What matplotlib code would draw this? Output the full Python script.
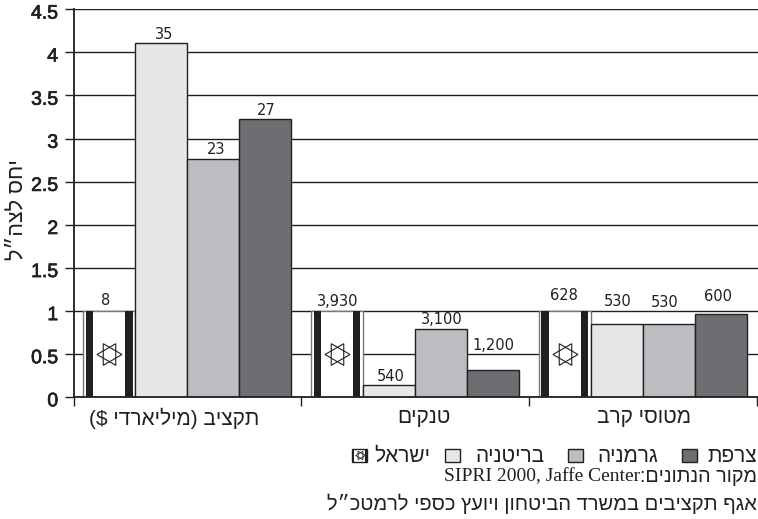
import matplotlib
matplotlib.use("Agg")
import matplotlib.pyplot as plt
import matplotlib.patheffects as pe
from matplotlib.patches import Rectangle
from matplotlib.lines import Line2D
from matplotlib.transforms import ScaledTranslation

plt.rcParams['font.family'] = ['Liberation Sans', 'DejaVu Sans']

# Data: ratio to Israel per category; labels give the absolute figures
categories = ["תקציב (מיליארדי $)", "טנקים", "מטוסי קרב"]
countries = ["ישראל", "בריטניה", "גרמניה", "צרפת"]
israel = [1, 1, 1]
britain = [4.105, 0.139, 0.85]
germany = [2.765, 0.787, 0.85]
france = [3.23, 0.31, 0.965]
israel_labels = ["8", "3,930", "628"]
britain_labels = ["35", "540", "530"]
germany_labels = ["23", "3,100", "530"]
france_labels = ["27", "1,200", "600"]
yticks = [0, 0.5, 1, 1.5, 2, 2.5, 3, 3.5, 4, 4.5]
ytick_labels = ["0", "0.5", "1", "1.5", "2", "2.5", "3", "3.5", "4", "4.5"]
ylabel = "יחס לצה״ל"
source_he = "מקור הנתונים:"
source_en = "SIPRI 2000, Jaffe Center"
credit = "אגף תקציבים במשרד הביטחון ויועץ כספי לרמטכ״ל"

# Styling
COLORS = ["white", "#e6e7e8", "#bcbdc0", "#6d6e71"]
INK = "#231f20"
label_nudges = [
    [(-4, 10.5), (0.5, 9), (-1, 15.5)],
    [(3, 9), (2, 9), (1, 22.5)],
    [(3, 9), (1, 9.5), (-4, 21.5)],
    [(1, 8.5), (0, 25), (-2.5, 17.5)],
]
category_label_x = [0.4436, 1.539, 2.505]


def visual(s):
    """Reorder logical Hebrew into the left-to-right order the text engine draws."""
    swap = {"(": ")", ")": "("}
    return "".join(swap.get(c, c) for c in reversed(s))


W, H = 758, 519
GROUP_PX = 227.7
fig = plt.figure(figsize=(W / 100, H / 100), dpi=100)
ax = fig.add_axes([73.5 / W, 1 - 397 / H, (758 - 73.5) / W, (397 - 9.3) / H])
ax.set_xlim(0, (758 - 73.5) / GROUP_PX)
ax.set_ylim(0, 4.5)
ax.set_axisbelow(True)
ax.yaxis.grid(True, color=INK, lw=1.0)
ax.xaxis.grid(False)
for name in ("top", "right"):
    ax.spines[name].set_visible(False)
for name in ("left", "bottom"):
    ax.spines[name].set_color(INK)
    ax.spines[name].set_linewidth(1.3)
    ax.spines[name].set_zorder(6)

ax.set_yticks(yticks, ytick_labels, fontsize=14, color=INK)
ax.tick_params(axis='y', length=6.5, width=1.0, color=INK, pad=4.5)
shift = ScaledTranslation(0, -2 / 72, fig.dpi_scale_trans)
for lab in ax.get_yticklabels():
    lab.set_transform(lab.get_transform() + shift)
    lab.set_path_effects([pe.withStroke(linewidth=0.5, foreground=INK)])

ax.set_xticks([0, 1, 2, 3], [""] * 4)
ax.tick_params(axis='x', length=6.5, width=1.0, color=INK)
ax.set_xticks(category_label_x, [visual(c) for c in categories], minor=True,
              fontsize=15, color=INK)
ax.tick_params(axis='x', which='minor', length=0, pad=8)

ax.set_ylabel(visual(ylabel), fontsize=15.5, color=INK)
ax.yaxis.set_label_coords((27 - 73.5) / (758 - 73.5), (397 - 210) / (397 - 9.3))

series = [israel, britain, germany, france]
labels = [israel_labels, britain_labels, germany_labels, france_labels]
bar_w = 52 / GROUP_PX


def add_star(axes, x, y, size):
    for angle in (90, 270):
        axes.plot(x, y, marker=(3, 0, angle), ms=size, mfc='none', mec=INK, mew=0.8,
                  zorder=4, ls='none', clip_on=False)


for k, (vals, labs) in enumerate(zip(series, labels)):
    for i, (v, lab) in enumerate(zip(vals, labs)):
        x = i + 0.5 + (k - 1.5) * bar_w
        ax.bar(x, v, bar_w, color=COLORS[k], edgecolor=INK if k else "#77787b",
               lw=1.0, zorder=3)
        ax.annotate(lab, (x, v), xytext=label_nudges[k][i], textcoords='offset pixels',
                    ha='center', va='center', fontsize=10.5, color=INK, zorder=5,
                    family='DejaVu Sans')
        if k == 0:
            # Flag decoration: two dark stripes and a hexagram centred on the bar
            for side in (-1, 1):
                sx = x + side * bar_w * 0.377
                ax.add_patch(Rectangle((sx - bar_w * 0.072, 0), bar_w * 0.144, v,
                                       fc=INK, ec='none', zorder=4))
            add_star(ax, x, v * 0.5, 18)

# Legend row, laid out by hand in pixel positions
legend_y = 1 - 455 / H
legend_slots = [(430, 352), (545, 445), (658, 568), (757, 682)]
for idx, (text_x, box_x) in enumerate(legend_slots):
    fig.text(text_x / W, legend_y - 1 / H, visual(countries[idx]), fontsize=15, color=INK,
             va='center', ha='right')
    fig.add_artist(Rectangle((box_x / W, legend_y - 6.5 / H), 15 / W, 13 / H, fc=COLORS[idx],
                             ec=INK, lw=1.0, transform=fig.transFigure))
# Miniature flag in the first legend swatch
for left in (352, 365):
    fig.add_artist(Rectangle((left / W, legend_y - 6.5 / H), 2 / W, 13 / H,
                             fc=INK, ec='none', transform=fig.transFigure))
for angle in (90, 270):
    fig.add_artist(Line2D([359.5 / W], [legend_y], marker=(3, 0, angle), ms=7, mfc='none',
                          mec=INK, mew=0.6, ls='none', transform=fig.transFigure))

fig.text(757 / W, 1 - 477 / H, visual(source_he), fontsize=14.2, color=INK, ha='right', va='center')
fig.text(640 / W, 1 - 477 / H, source_en, fontsize=14, color=INK, ha='right', va='center',
         family='Liberation Serif')
fig.text(757 / W, 1 - 504 / H, visual(credit), fontsize=14.5, color=INK, ha='right', va='center')

fig.savefig("out.png", dpi=100)
